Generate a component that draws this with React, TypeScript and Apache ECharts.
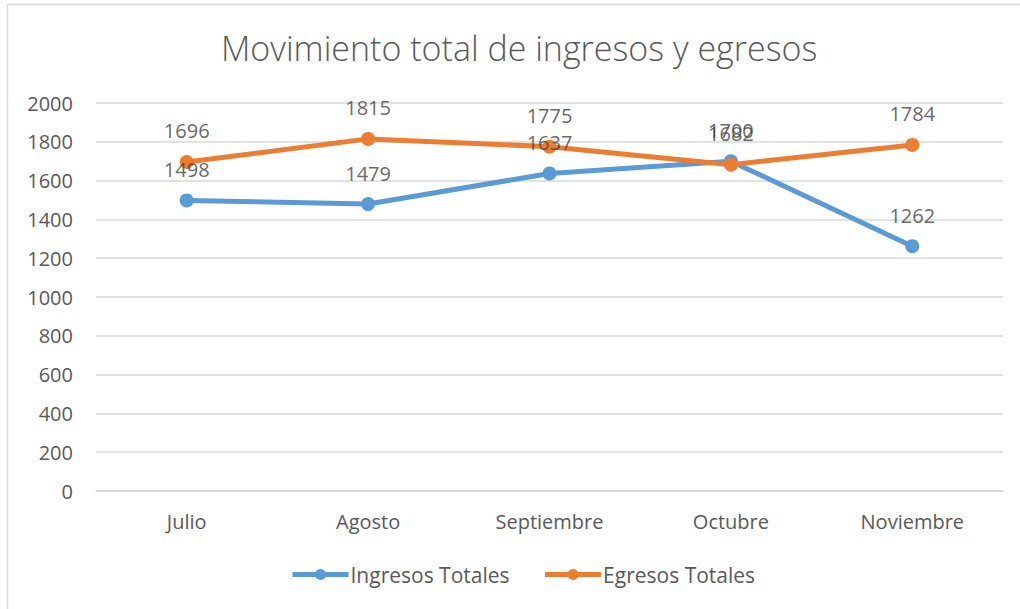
import React, { useEffect, useRef } from "react";
import * as echarts from "echarts";

const categories = ["Julio", "Agosto", "Septiembre", "Octubre", "Noviembre"];
const ingresos = [1498, 1479, 1637, 1700, 1262];
const egresos = [1696, 1815, 1775, 1682, 1784];
const seriesNames = ["Ingresos Totales", "Egresos Totales"];
const titleText = "Movimiento total de ingresos y egresos";

const FONT = "'Open Sans', Lato, sans-serif";

export default function App() {
  const ref = useRef<HTMLDivElement>(null);
  useEffect(() => {
    document.body.style.margin = "0";
    const chart = echarts.init(ref.current!, null, { renderer: "svg" });
    const labelCfg = {
      show: true,
      position: "top",
      distance: 14,
      fontSize: 20,
      color: "#404040",
      fontFamily: FONT,
    };
    chart.setOption({
      animation: false,
      backgroundColor: "#ffffff",
      textStyle: { fontFamily: FONT },
      graphic: [
        {
          type: "rect",
          shape: { x: 7.5, y: 4.5, width: 1030, height: 620 },
          style: { fill: "none", stroke: "#d9d9d9", lineWidth: 1.5 },
          silent: true,
        },
      ],
      title: {
        text: titleText,
        left: 216,
        top: 26,
        textStyle: {
          fontSize: 34,
          fontWeight: 300,
          color: "#595959",
          fontFamily: FONT,
        },
      },
      legend: {
        bottom: 19,
        left: 285,
        itemWidth: 56,
        itemHeight: 14,
        itemGap: 33,
        lineStyle: { width: 5 },
        textStyle: { fontSize: 21, color: "#595959", fontFamily: FONT, padding: [0, 0, 0, -3] },
        data: seriesNames,
      },
      grid: { left: 96, right: 17, top: 103, bottom: 118, containLabel: false },
      xAxis: {
        type: "category",
        data: categories,
        axisLine: { show: true, lineStyle: { color: "#d9d9d9", width: 1.5 } },
        axisTick: { show: false },
        axisLabel: { fontSize: 20, color: "#595959", margin: 20, fontFamily: FONT },
      },
      yAxis: {
        type: "value",
        min: 0,
        max: 2000,
        interval: 200,
        axisLine: { show: false },
        axisTick: { show: false },
        axisLabel: {
          fontSize: 20,
          color: "#595959",
          margin: 23,
          fontFamily: FONT,
          formatter: (v: number) => String(v),
        },
        splitLine: { lineStyle: { color: "#d9d9d9", width: 1.5 } },
      },
      series: [
        {
          name: seriesNames[0],
          type: "line",
          data: ingresos,
          color: "#5B9BD5",
          lineStyle: { width: 5, color: "#5B9BD5" },
          symbol: "circle",
          symbolSize: 14,
          itemStyle: { color: "#5B9BD5" },
          z: 2,
        },
        {
          name: seriesNames[1],
          type: "line",
          data: egresos,
          color: "#ED7D31",
          lineStyle: { width: 5, color: "#ED7D31" },
          symbol: "circle",
          symbolSize: 14,
          itemStyle: { color: "#ED7D31" },
          z: 3,
        },
        {
          name: seriesNames[0],
          type: "scatter",
          data: ingresos,
          symbolSize: 14,
          itemStyle: { color: "rgba(0,0,0,0)" },
          label: labelCfg,
          silent: true,
          z: 10,
        },
        {
          name: seriesNames[1],
          type: "scatter",
          data: egresos,
          symbolSize: 14,
          itemStyle: { color: "rgba(0,0,0,0)" },
          label: labelCfg,
          silent: true,
          z: 10,
        },
      ],
    });
    return () => chart.dispose();
  }, []);
  return (
    <div
      ref={ref}
      style={{ position: "fixed", left: 0, top: 0, width: 1020, height: 609 }}
    />
  );
}
